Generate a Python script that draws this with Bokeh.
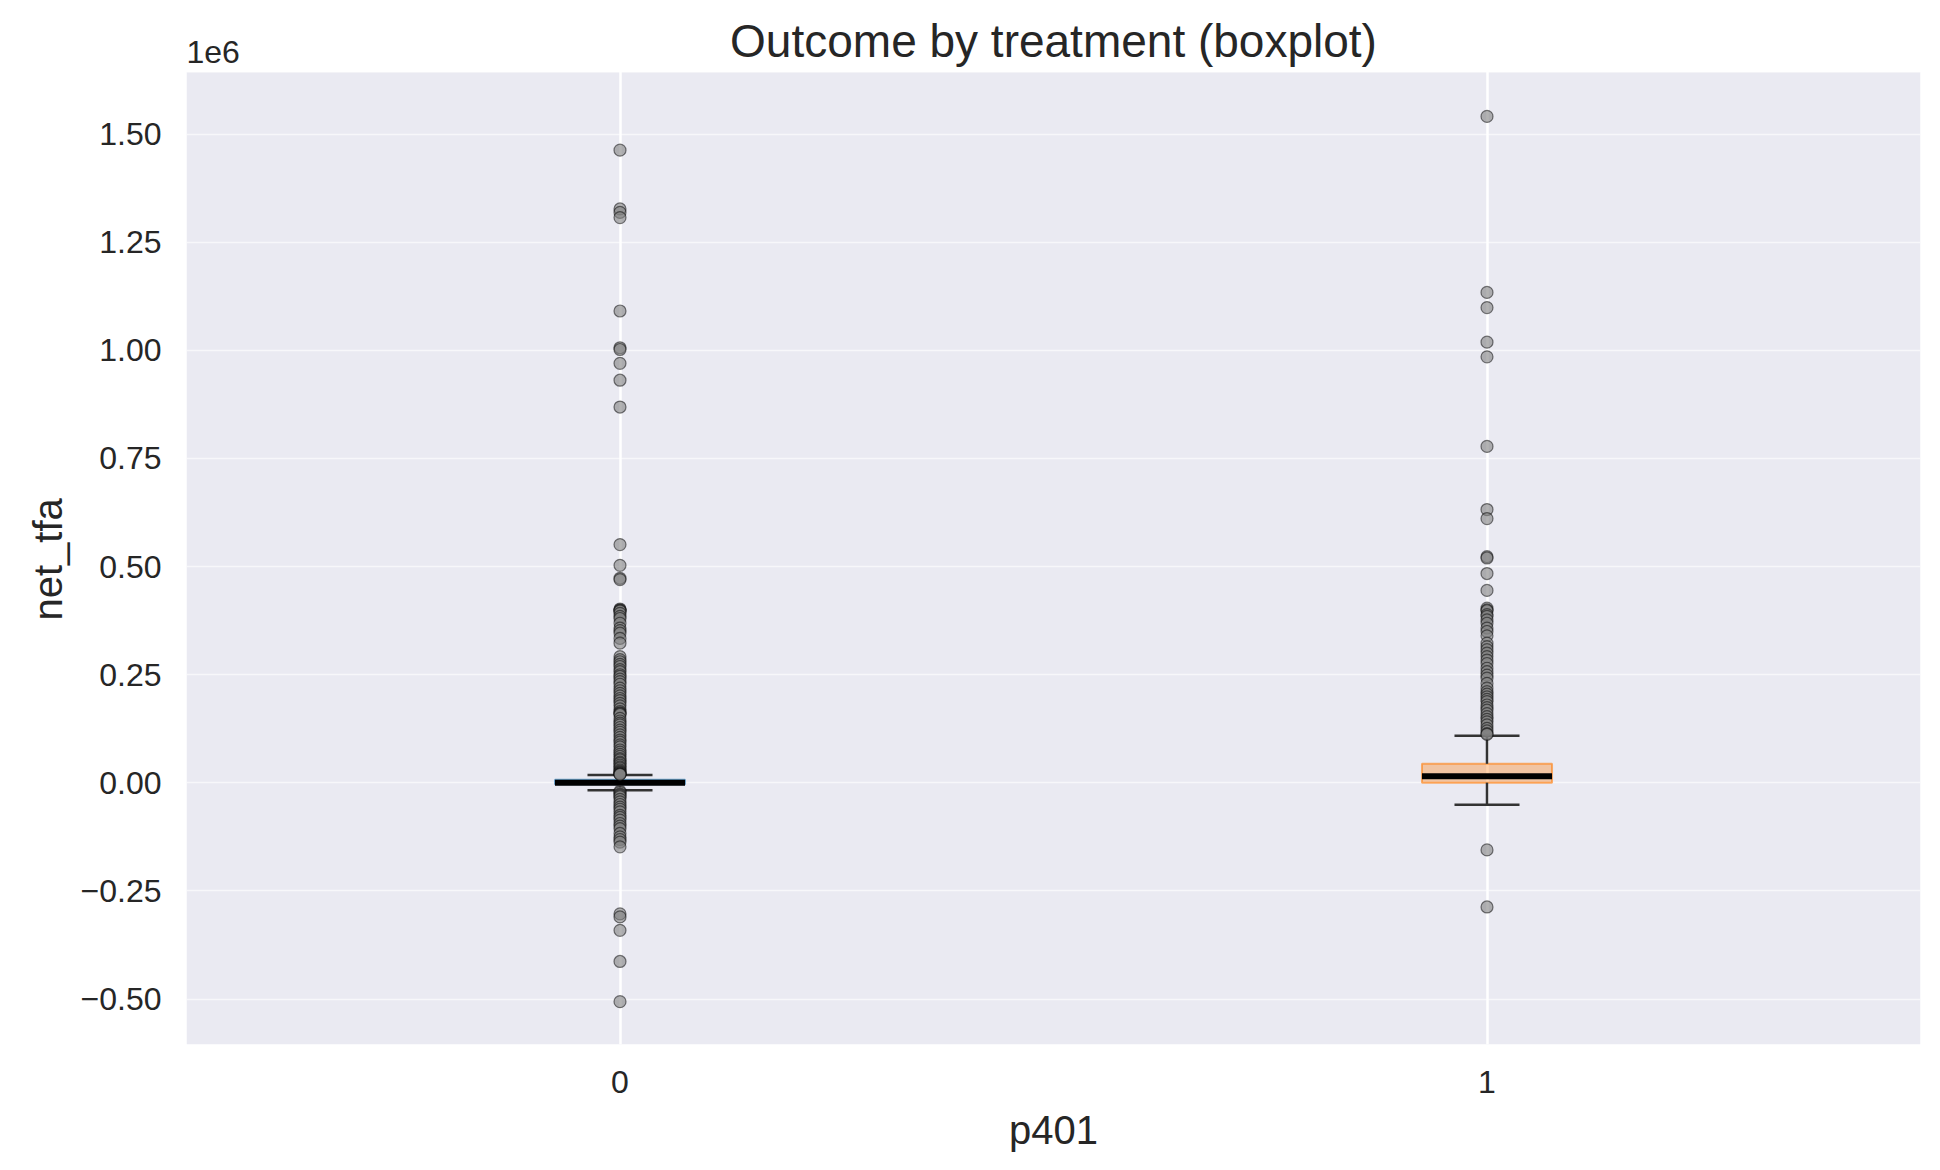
from bokeh.plotting import figure
from bokeh.models import FixedTicker, Range1d, Title, BoxAnnotation
from bokeh.core.properties import value
from bokeh.embed import file_html
from bokeh.resources import INLINE

# ---- data (net_tfa in dollars) ----
groups = [0, 1]
group_labels = ["0", "1"]
q1 = [-3000, 500]
median = [300, 15500]
q3 = [7000, 44000]
whisker_low = [-17000, -50500]
whisker_high = [18000, 109000]
box_colors = ["#1f77b4", "#ff7f0e"]

outliers_0 = [1463000, 1327000, 1319000, 1307000, 1091000, 1006000, 1002000, 970000,
              931000, 869000, 551000, 503000, 473000, 470000, 402000, 400000, 399000,
              397000, 392000, 385000, 380000, 369000, 358000, 352000, 346000, 334000,
              323000, 292000, 285000, 280000, 274000, 269000, 262000, 257000, 250000,
              246000, 240000, 234000, 228000, 219000, 213000, 207000, 201000, 195000,
              190000, 184000, 178000, 171000, 165000, 162000, 160000, 158000, 149000,
              143000, 138000, 134000, 128000, 122000, 117000, 111000, 105000, 99000,
              94000, 88000, 83000, 76000, 71000, 66000, 61000, 56000, 53000, 48000,
              45000, 41000, 37000, 34000, 30000, 27000, 25000, 23000, 21500, 20000,
              19500,
              -19000, -22000, -26000, -29000, -32000, -38000, -44000, -50000, -56000,
              -61000, -67000, -75000, -80000, -86000, -94000, -100000, -106000,
              -117000, -125000, -131000, -137000, -148000, -303000, -310000, -341000,
              -413000, -506000]

outliers_1 = [1541000, 1134000, 1099000, 1019000, 985000, 778000, 632000, 611000,
              523000, 520000, 484000, 445000, 404000, 400000, 398000, 389000, 385000,
              377000, 369000, 358000, 350000, 340000, 323000, 315000, 308000, 300000,
              292000, 284000, 276000, 265000, 257000, 249000, 242000, 230000, 219000,
              211000, 205000, 199000, 193000, 188000, 180000, 174000, 168000, 160000,
              153000, 147000, 141000, 134000, 126000, 120000, 114000, 112000,
              -155000, -287000]

y_ticks = [-500000, -250000, 0, 250000, 500000, 750000, 1000000, 1250000, 1500000]
y_tick_labels = ["\u22120.50", "\u22120.25", "0.00", "0.25", "0.50", "0.75",
                 "1.00", "1.25", "1.50"]

title_text = "Outcome by treatment (boxplot)"
offset_text = "1e6"

FONT = "Liberation Sans"
TXT = "#262626"
BOX_W = 0.15
CAP_W = 0.075

# layout: the frame starts at the canvas top; the grey axes area is a box
# below a white strip that carries the title and the scientific-offset text
W, H = 1924, 1154
BORDER_BOTTOM = 107
STRIP_PX = 72
X0, X1 = -0.5, 1.5
Y_BOT, Y_TOP = -605000, 1643000
frame_h = H - BORDER_BOTTOM
per_px = (Y_TOP - Y_BOT) / (frame_h - STRIP_PX)
Y_END = Y_TOP + STRIP_PX * per_px

p = figure(width=W, height=H, output_backend="svg", toolbar_location=None,
           x_range=Range1d(X0, X1), y_range=Range1d(Y_BOT, Y_END),
           min_border_left=186, min_border_right=4, min_border_top=0,
           min_border_bottom=BORDER_BOTTOM, title=None)
p.title_location = None
p.background_fill_color = "white"
p.border_fill_color = "white"
p.outline_line_color = None

# grey axes background, drawn beneath the grid
p.add_layout(BoxAnnotation(top=Y_TOP, fill_color="#EAEAF2", fill_alpha=1.0,
                           line_color=None, level="image"))

# grids
p.xgrid.ticker = FixedTicker(ticks=groups)
p.xgrid.grid_line_color = "white"
p.xgrid.grid_line_width = 2.5
p.ygrid.ticker = FixedTicker(ticks=y_ticks)
p.ygrid.grid_line_color = "white"
p.ygrid.grid_line_alpha = 0.6
p.ygrid.grid_line_width = 1.5

# axes
p.xaxis.ticker = FixedTicker(ticks=groups)
p.xaxis.major_label_overrides = {g: l for g, l in zip(groups, group_labels)}
p.yaxis.ticker = FixedTicker(ticks=y_ticks)
p.yaxis.major_label_overrides = {t: l for t, l in zip(y_ticks, y_tick_labels)}
for ax in (p.xaxis, p.yaxis):
    ax.axis_line_color = None
    ax.major_tick_line_color = None
    ax.minor_tick_line_color = None
    ax.major_tick_out = 0
    ax.major_tick_in = 0
    ax.major_label_text_font = FONT
    ax.major_label_text_font_size = "32px"
    ax.major_label_text_color = TXT
    ax.axis_label_text_font = FONT
    ax.axis_label_text_font_size = "40px"
    ax.axis_label_text_font_style = "normal"
    ax.axis_label_text_color = TXT
p.xaxis.axis_label = "p401"
p.xaxis.major_label_standoff = 26
p.yaxis.major_label_standoff = 25
p.xaxis.axis_label_standoff = 12

# y axis label as a left-side title, positioned on the grey area
p.add_layout(Title(text="net_tfa", align="left", offset=424, standoff=15,
                   text_font=FONT, text_font_size="40px", text_font_style="normal",
                   text_color=TXT), "left")

# boxes
left = [g - BOX_W / 2 for g in groups]
right = [g + BOX_W / 2 for g in groups]
p.quad(left=left, right=right, bottom=q1, top=q3, fill_color=box_colors,
       fill_alpha=0.35, line_color=box_colors, line_alpha=0.6, line_width=2)

# whiskers
p.segment(x0=groups, y0=q3, x1=groups, y1=whisker_high, line_color="#333333",
          line_width=2.5)
p.segment(x0=groups, y0=q1, x1=groups, y1=whisker_low, line_color="#333333",
          line_width=2.5)
cap_l = [g - CAP_W / 2 for g in groups]
cap_r = [g + CAP_W / 2 for g in groups]
p.segment(x0=cap_l, y0=whisker_high, x1=cap_r, y1=whisker_high,
          line_color="#333333", line_width=2.5)
p.segment(x0=cap_l, y0=whisker_low, x1=cap_r, y1=whisker_low,
          line_color="#333333", line_width=2.5)

# medians
p.segment(x0=left, y0=median, x1=right, y1=median, line_color="black", line_width=6)

# outliers
p.scatter(x=[groups[0]] * len(outliers_0), y=outliers_0, size=12, marker="circle",
          fill_color="gray", fill_alpha=0.6, line_color="black", line_alpha=0.5,
          line_width=1.2)
p.scatter(x=[groups[1]] * len(outliers_1), y=outliers_1, size=12, marker="circle",
          fill_color="gray", fill_alpha=0.6, line_color="black", line_alpha=0.5,
          line_width=1.2)

# white strip above the grey area hides the vertical grid lines there
pad_x = (X1 - X0) * 0.01
p.quad(left=[X0 - pad_x], right=[X1 + pad_x], bottom=[Y_TOP], top=[Y_END + 20 * per_px],
       fill_color="white", line_color=None)

# title and offset text
p.text(x=[(X0 + X1) / 2], y=[Y_END - 41 * per_px], text=[title_text],
       text_font=value(FONT), text_font_size=value("46px"), text_color=TXT,
       text_align="center", text_baseline="middle")
p.text(x=[X0], y=[Y_TOP + 9 * per_px], text=[offset_text],
       text_font=value(FONT), text_font_size=value("32px"), text_color=TXT,
       text_align="left", text_baseline="bottom")

open("out.html", "w").write(file_html(p, INLINE))
